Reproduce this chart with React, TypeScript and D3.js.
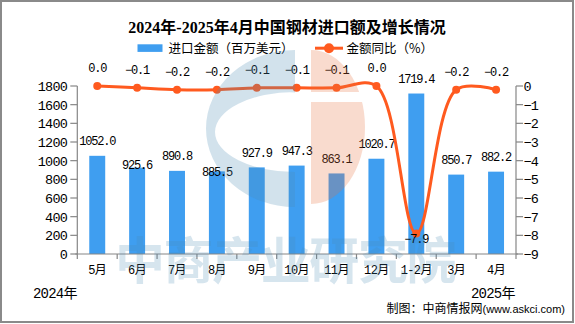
import React from "react";
import * as d3 from "d3";

const categories = ["5月", "6月", "7月", "8月", "9月", "10月", "11月", "12月", "1-2月", "3月", "4月"];
const importValues = [1052.0, 925.6, 890.8, 885.5, 927.9, 947.3, 863.1, 1020.7, 1719.4, 850.7, 882.2];
const yoyValues = [0.0, -0.1, -0.2, -0.2, -0.1, -0.1, -0.1, 0.0, -7.9, -0.2, -0.2];
const leftTicks = [0, 200, 400, 600, 800, 1000, 1200, 1400, 1600, 1800];
const rightTicks = [0, -1, -2, -3, -4, -5, -6, -7, -8, -9];

const W = 575;
const H = 324;
const M = { left: 77.3, right: 516, top: 86, bottom: 254 };
const BAR = "#3f9ef0";
const LINE = "#ff5a1f";
const AXIS = "#868686";
const MONO = "'Liberation Mono', 'Noto Sans CJK SC', monospace";
const CJK = "'Noto Sans CJK SC', 'Liberation Sans', sans-serif";

// label nudges (px, downward) for bar value labels that sit lower in the original
const barLabelNudge: Record<string, number> = { "6月": 12, "8月": 15.5 };

export default function App() {
  const x = d3.scaleBand<string>().domain(categories).range([M.left, M.right]).padding(0);
  const yL = d3.scaleLinear().domain([0, 1800]).range([M.bottom, M.top]);
  const yR = d3.scaleLinear().domain([-9, 0]).range([M.bottom, M.top]);
  const bw = x.bandwidth();
  const barW = bw * 0.4;
  const cx = (c: string) => (x(c) as number) + bw / 2;

  const fmt = d3.format(".1f");
  const line = d3
    .line<number>()
    .x((_, i) => cx(categories[i]))
    .y((d) => yR(d))
    .curve(d3.curveCatmullRom.alpha(0.5));

  const boundaries = d3.range(categories.length + 1).map((i) => M.left + i * bw);

  // watermark geometry
  const bx = 295, by = 128.5, brx = 89, bry = 78.5;
  const ix = 295, iy = 132, irx = 80, iry = 40;
  const bluePath =
    `M${bx},${by - bry} A${brx},${bry} 0 0 0 ${bx},${by + bry} Z ` +
    `M${ix},${iy - iry} A${irx},${iry} 0 0 0 ${ix},${iy + iry} Z`;
  const ox = 311, oy = 127, orx = 54, ory = 77;
  const orangePath = `M${ox},${oy - ory} A${orx},${ory} 0 0 1 ${ox},${oy + ory} Z`;

  return (
    <svg
      width={W}
      height={H}
      style={{ position: "absolute", left: 0, top: 0 }}
      xmlns="http://www.w3.org/2000/svg"
    >
      <defs>
        <clipPath id="orangeClip">
          <rect x={300} y={40} width={100} height={52} />
          <rect x={300} y={102} width={100} height={120} />
        </clipPath>
      </defs>
      <rect x={1} y={1} width={572} height={321} fill="#fff" stroke="#8a8a8a" strokeWidth={2} />

      {/* title */}
      <text
        x={287}
        y={27}
        dy="0.36em"
        textAnchor="middle"
        fontSize={16}
        fontWeight="bold"
        fontFamily={"'Liberation Serif', 'Noto Sans CJK SC', serif"}
        fill="#000"
      >
        2024年-2025年4月中国钢材进口额及增长情况
      </text>

      {/* legend */}
      <rect x={137.5} y={44.3} width={25} height={7.6} fill={BAR} />
      <text x={168.5} y={48.2} dy="0.36em" fontSize={12.5} fontFamily={CJK} fill="#000">
        进口金额（百万美元）
      </text>
      <line x1={315} x2={343} y1={48.2} y2={48.2} stroke={LINE} strokeWidth={3} />
      <circle cx={329} cy={48.2} r={5} fill={LINE} />
      <text x={346.5} y={48.2} dy="0.36em" fontSize={12.5} fontFamily={CJK} fill="#000">
        金额同比（%）
      </text>

      {/* bars */}
      {categories.map((c, i) => (
        <rect
          key={c}
          x={cx(c) - barW / 2}
          y={yL(importValues[i])}
          width={barW}
          height={M.bottom - yL(importValues[i])}
          fill={BAR}
        />
      ))}

      {/* left axis */}
      <line x1={M.left} x2={M.left} y1={M.top} y2={M.bottom} stroke={AXIS} strokeWidth={1.2} />
      {leftTicks.map((t) => (
        <g key={"l" + t}>
          <line x1={M.left - 7} x2={M.left} y1={yL(t)} y2={yL(t)} stroke={AXIS} strokeWidth={1.2} />
          <text
            x={67}
            y={yL(t)}
            dy="0.36em"
            textAnchor="end"
            fontSize={13.5}
            letterSpacing={-0.8}
            fontFamily={MONO}
            fill="#000"
          >
            {t}
          </text>
        </g>
      ))}

      {/* right axis */}
      <line x1={M.right} x2={M.right} y1={M.top} y2={M.bottom} stroke={AXIS} strokeWidth={1.2} />
      {rightTicks.map((t) => (
        <g key={"r" + t}>
          <line x1={M.right} x2={M.right + 7} y1={yR(t)} y2={yR(t)} stroke={AXIS} strokeWidth={1.2} />
          <text
            x={523.5}
            y={yR(t)}
            dy="0.36em"
            textAnchor="start"
            fontSize={13.5}
            letterSpacing={-0.8}
            fontFamily={MONO}
            fill="#000"
          >
            {d3.format("d")(t)}
          </text>
        </g>
      ))}

      {/* x axis */}
      <line x1={M.left - 2} x2={M.right + 2} y1={M.bottom} y2={M.bottom} stroke={AXIS} strokeWidth={1.2} />
      {boundaries.map((b, i) => (
        <line key={"b" + i} x1={b} x2={b} y1={M.bottom} y2={M.bottom + 5} stroke={AXIS} strokeWidth={1.2} />
      ))}
      {categories.map((c) => (
        <text
          key={"c" + c}
          x={cx(c)}
          y={270}
          dy="0.36em"
          textAnchor="middle"
          fontSize={12}
          letterSpacing={-0.6}
          fontFamily={MONO}
          fill="#000"
        >
          {c}
        </text>
      ))}

      {/* bar value labels */}
      {categories.map((c, i) => (
        <text
          key={"v" + c}
          x={cx(c)}
          y={yL(importValues[i]) - 14.5 + (barLabelNudge[c] || 0)}
          dy="0.33em"
          textAnchor="middle"
          fontSize={12}
          letterSpacing={-1.2}
          fontFamily={MONO}
          fill="#000"
        >
          {fmt(importValues[i])}
        </text>
      ))}

      {/* line */}
      <path d={line(yoyValues) || ""} fill="none" stroke={LINE} strokeWidth={3} />
      {categories.map((c, i) => (
        <circle key={"p" + c} cx={cx(c)} cy={yR(yoyValues[i])} r={4} fill={LINE} />
      ))}
      {categories.map((c, i) => {
        const v = yoyValues[i];
        const below = v < -5;
        return (
          <text
            key={"y" + c}
            x={cx(c)}
            y={yR(v) + (below ? 6 : -18)}
            dy="0.33em"
            textAnchor="middle"
            fontSize={12}
            letterSpacing={-1.2}
            fontFamily={MONO}
            fill="#000"
          >
            {fmt(v)}
          </text>
        );
      })}

      {/* year labels and source */}
      <text x={33} y={293} dy="0.36em" fontSize={14} letterSpacing={-0.8} fontFamily={MONO} fill="#000">
        2024年
      </text>
      <text x={471} y={293} dy="0.36em" fontSize={14} letterSpacing={-0.8} fontFamily={MONO} fill="#000">
        2025年
      </text>
      <text x={565} y={309} dy="0.36em" textAnchor="end" fontSize={12} fontFamily={CJK} fill="#000">
        制图：中商情报网
        <tspan fontSize={11} fontFamily="'Liberation Sans', sans-serif">(www.askci.com)</tspan>
      </text>

      {/* watermark */}
      <g pointerEvents="none">
        <path d={bluePath} fill="#4a8bb5" fillRule="evenodd" opacity={0.25} />
        <path d={orangePath} fill="#e8703a" opacity={0.25} clipPath="url(#orangeClip)" />
        <text
          x={285}
          y={279}
          textAnchor="middle"
          fontSize={50}
          fontWeight="bold"
          letterSpacing={-1.4}
          fontFamily={CJK}
          fill="#4a8bb5"
          opacity={0.22}
        >
          中商产业研究院
        </text>
      </g>
    </svg>
  );
}
